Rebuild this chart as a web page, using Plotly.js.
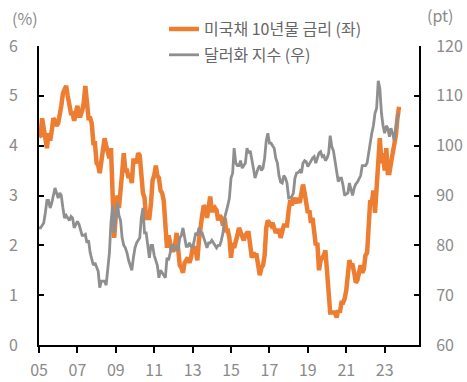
<!DOCTYPE html>
<html>
<head>
<meta charset="utf-8">
<script src="https://cdn.plot.ly/plotly-3.0.1.min.js"></script>
<style>html,body{margin:0;padding:0;background:#fff;}#chart{width:467px;height:382px;}</style>
</head>
<body>
<div id="chart"></div>
<script>
// Monthly observations, January 2005 onward
const startYear = 2005;
const yieldName = '미국채 10년물 금리 (좌)';
const dollarName = '달러화 지수 (우)';
const xTickLabels = ['05','07','09','11','13','15','17','19','21','23'];

const ust10y = [
  4.18,4.20,4.55,4.30,4.05,3.95,4.25,4.10,4.30,4.55,4.50,4.40,
  4.45,4.60,4.80,5.05,5.15,5.20,5.00,4.80,4.65,4.65,4.50,4.65,
  4.80,4.60,4.60,4.70,4.85,5.20,4.90,4.55,4.55,4.45,4.05,4.05,
  3.65,3.60,3.45,3.75,4.00,4.15,4.00,3.85,3.75,3.95,3.00,2.15,
  2.60,3.00,2.75,3.05,3.45,3.85,3.50,3.50,3.35,3.45,3.25,3.70,
  3.70,3.65,3.85,3.80,3.35,3.05,2.95,2.55,2.55,2.55,2.85,3.30,
  3.40,3.60,3.40,3.35,3.10,3.05,2.90,2.25,1.95,2.20,2.05,1.90,
  1.90,2.00,2.25,1.95,1.60,1.55,1.45,1.65,1.70,1.75,1.65,1.75,
  1.95,1.95,1.90,1.70,2.10,2.45,2.60,2.80,2.75,2.55,2.75,2.98,
  2.70,2.70,2.75,2.70,2.50,2.60,2.55,2.40,2.55,2.30,2.30,2.15,
  1.75,2.05,1.95,2.05,2.20,2.35,2.25,2.15,2.10,2.20,2.25,2.25,
  1.95,1.75,1.85,1.80,1.80,1.50,1.40,1.55,1.60,1.80,2.35,2.50,
  2.45,2.40,2.45,2.30,2.25,2.30,2.30,2.15,2.30,2.40,2.40,2.40,
  2.70,2.90,2.80,2.95,2.90,2.85,2.95,2.85,3.05,3.22,3.05,2.75,
  2.65,2.70,2.45,2.55,2.15,2.00,2.05,1.50,1.70,1.75,1.80,1.90,
  1.55,1.15,0.65,0.65,0.65,0.65,0.55,0.70,0.65,0.85,0.85,0.93,
  1.10,1.45,1.70,1.60,1.60,1.45,1.25,1.30,1.50,1.60,1.45,1.52,
  1.80,1.85,2.35,2.90,2.85,3.10,2.65,3.15,3.80,4.15,3.65,3.85,
  3.50,3.95,3.45,3.45,3.65,3.80,3.95,4.20,4.55,4.78
];

const dollarIndex = [
  83.5,83.5,84.0,84.5,86.5,89.0,89.0,87.5,88.5,89.8,91.5,90.5,
  89.5,90.5,90.0,87.5,85.5,86.0,85.5,85.0,85.8,85.5,83.5,84.0,
  84.8,84.2,83.0,82.0,82.0,82.2,80.5,81.0,78.5,77.0,76.0,76.5,
  75.8,74.8,71.5,72.8,72.8,72.8,72.0,76.0,78.5,84.5,88.0,82.5,
  85.5,88.5,86.0,85.0,81.5,80.0,79.5,78.5,77.0,76.0,75.0,77.5,
  79.5,80.5,81.0,81.5,85.5,87.5,82.5,82.5,80.0,77.5,80.0,80.0,
  78.0,77.0,76.0,73.5,75.0,74.5,74.0,73.5,77.5,77.0,78.5,80.0,
  80.0,78.9,79.5,79.0,81.5,82.0,83.5,81.5,79.8,79.8,80.5,79.8,
  79.5,81.0,82.5,82.0,83.5,82.5,82.5,81.5,80.5,79.5,80.5,80.5,
  81.0,80.5,80.0,79.5,80.0,80.0,81.0,82.5,85.5,86.5,88.0,89.5,
  93.5,94.5,99.5,96.5,96.0,96.0,97.0,95.5,96.0,96.5,99.5,98.5,
  99.0,97.5,95.5,93.5,94.5,95.5,96.0,95.0,95.5,97.5,101.0,102.5,
  100.5,100.5,100.0,99.5,97.5,96.5,94.0,92.7,92.5,94.0,93.5,92.5,
  89.5,89.5,89.8,90.5,93.5,94.5,94.6,95.0,94.5,96.5,97.0,96.8,
  95.8,96.5,96.8,97.5,97.8,96.5,97.5,98.5,98.8,97.8,98.0,97.0,
  97.5,98.5,102.0,99.8,99.0,97.0,94.5,92.8,93.5,93.5,92.0,90.0,
  90.3,90.5,92.5,91.3,90.0,91.5,92.3,92.7,93.5,94.0,96.0,96.0,
  96.0,96.5,98.5,101.0,102.5,104.0,106.5,107.5,113.0,111.5,106.5,104.0,
  102.5,104.0,103.5,101.8,103.5,102.5,101.0,103.5,105.5,106.5
];

function monthDates(n) {
  const out = [];
  for (let i = 0; i < n; i++) {
    const y = startYear + Math.floor(i / 12);
    const m = (i % 12) + 1;
    out.push(y + '-' + (m < 10 ? '0' + m : m) + '-01');
  }
  return out;
}

const W = 467, H = 382;
const L = 39, R = 48, T = 43, B = 37;
const pw = W - L - R, ph = H - T - B;
const px = v => (v - L) / pw;
const py = v => (H - B - v) / ph;

const tickFont = {family: 'Noto Sans CJK KR, Noto Sans, sans-serif', size: 16, color: '#8a8a8a'};
const tickVals = xTickLabels.map(t => '20' + t + '-01-01');

const traces = [
  {
    x: monthDates(ust10y.length), y: ust10y, name: yieldName,
    type: 'scatter', mode: 'lines', yaxis: 'y', legend: 'legend',
    line: {color: '#ED7D31', width: 4.5}
  },
  {
    x: monthDates(dollarIndex.length), y: dollarIndex, name: dollarName,
    type: 'scatter', mode: 'lines', yaxis: 'y2', legend: 'legend2',
    line: {color: '#8F8F8F', width: 2.8}
  }
];

const legendFont = {family: 'Noto Sans CJK KR, Noto Sans, sans-serif', size: 16, color: '#666666'};

const layout = {
  width: W, height: H,
  margin: {l: L, r: R, t: T, b: B, pad: 0},
  paper_bgcolor: '#ffffff', plot_bgcolor: '#ffffff',
  showlegend: true,
  legend: {x: px(164), y: py(26), xanchor: 'left', yanchor: 'middle', font: legendFont,
           bgcolor: 'rgba(0,0,0,0)', borderwidth: 0, tracegroupgap: 0},
  legend2: {x: px(164), y: py(52), xanchor: 'left', yanchor: 'middle', font: legendFont,
            bgcolor: 'rgba(0,0,0,0)', borderwidth: 0, tracegroupgap: 0},
  xaxis: {
    type: 'date', range: ['2005-01-01', '2024-10-15'],
    tickmode: 'array', tickvals: tickVals, ticktext: xTickLabels,
    ticks: 'outside', ticklen: 6, tickwidth: 2, tickcolor: '#000',
    showline: true, linecolor: '#000', linewidth: 2,
    showgrid: false, zeroline: false, tickfont: tickFont, ticklabelstandoff: 4
  },
  yaxis: {
    range: [0, 6], dtick: 1, tick0: 0,
    ticks: 'inside', ticklen: 5, tickwidth: 2, tickcolor: '#000',
    showline: true, linecolor: '#000', linewidth: 2,
    showgrid: false, zeroline: false, tickfont: tickFont, ticklabelstandoff: 16
  },
  yaxis2: {
    range: [60, 120], dtick: 10, tick0: 60, overlaying: 'y', side: 'right',
    ticks: 'inside', ticklen: 5, tickwidth: 2, tickcolor: '#000',
    showline: true, linecolor: '#000', linewidth: 2,
    showgrid: false, zeroline: false, tickfont: tickFont, ticklabelstandoff: 12
  },
  annotations: [
    {text: '(%)', xref: 'paper', yref: 'paper', x: px(25), y: py(15), xanchor: 'center', yanchor: 'middle',
     showarrow: false, font: tickFont},
    {text: '(pt)', xref: 'paper', yref: 'paper', x: px(440), y: py(12), xanchor: 'center', yanchor: 'middle',
     showarrow: false, font: tickFont}
  ]
};

Plotly.newPlot('chart', traces, layout, {displayModeBar: false, staticPlot: true});
</script>
</body>
</html>
